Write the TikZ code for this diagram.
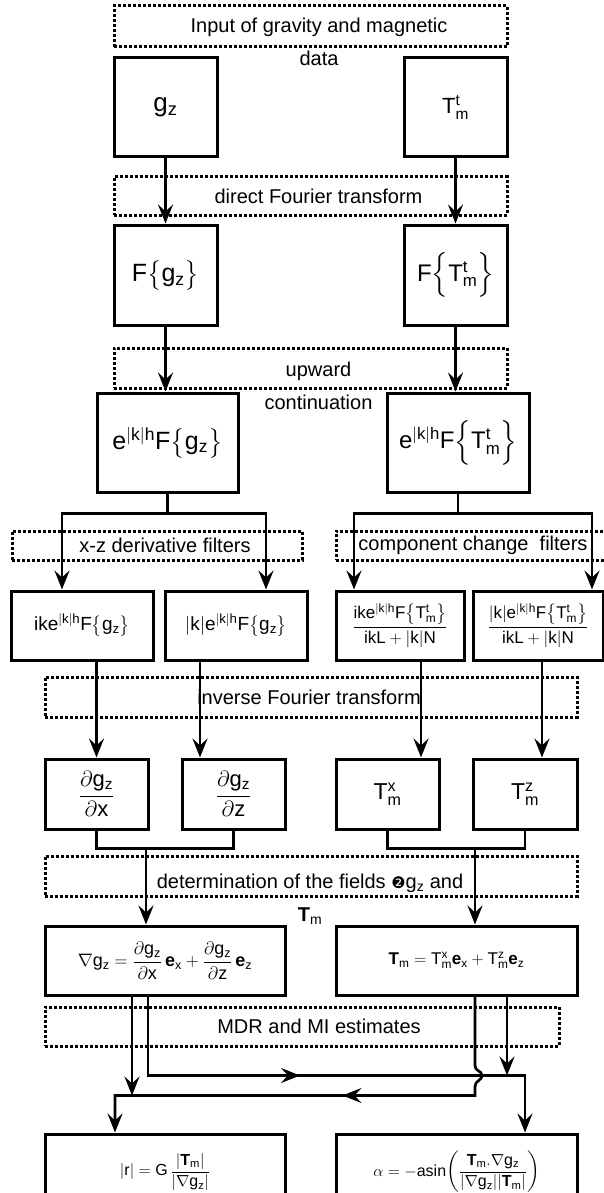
\documentclass[tikz,border=0pt]{standalone}
\usepackage{fix-cm}
\usepackage{amsmath}
\usepackage{fontspec}
\setmainfont{Liberation Sans}
\newfontfamily\dingfont{DejaVu Sans}
\usetikzlibrary{arrows.meta,decorations.markings}

\begin{document}
\begin{tikzpicture}[x=1pt,y=-1pt,
    box/.style={draw, line width=3pt, inner sep=0pt, align=center},
    stage/.style={draw, line width=3pt, dash pattern=on 3pt off 2pt, inner sep=0pt},
    lbl/.style={font=\fontsize{20}{33}\selectfont, align=center, inner sep=0pt},
    wire/.style={line width=2.7pt},
    flow/.style={line width=2.7pt, -{Stealth[length=19pt,width=15pt,inset=7pt]}},
    midarrow/.style={postaction={decorate}, decoration={markings,
        mark=at position #1 with {\arrow{Stealth[length=19pt,width=15pt,inset=7pt]}}}}]
    \useasboundingbox (0,0) rectangle (604,1193);

    % dotted stage frames
    \node[stage, minimum width=393pt, minimum height=41pt] (inp) at (310.5,26.5) {};
    \node[stage, minimum width=393pt, minimum height=38pt] (dft) at (310.5,196) {};
    \node[stage, minimum width=393pt, minimum height=40pt] (upw) at (310.5,368) {};
    \node[stage, minimum width=290pt, minimum height=29pt] (xzf) at (157,545.5) {};
    \node[stage, minimum width=274pt, minimum height=29pt] (ccf) at (473,545.5) {};
    \node[stage, minimum width=532pt, minimum height=40pt] (ift) at (311,697) {};
    \node[stage, minimum width=532pt, minimum height=40pt] (det) at (311,876) {};
    \node[stage, minimum width=514pt, minimum height=39pt] (mdr) at (302,1026.5) {};

    \node[lbl] (inptxt) at (319,41.5) {Input of gravity and magnetic\\data};
    \node[lbl] (dfttxt) at (318.5,196) {direct Fourier transform};
    \node[lbl] (upwtxt) at (318.5,386) {upward\\continuation};
    \node[lbl] (xzftxt) at (165,545.5) {x-z derivative filters};
    \node[lbl] (ccftxt) at (473,545.5) {component change\ \ filters};
    \node[lbl] (ifttxt) at (309,697) {inverse Fourier transform};
    \node[lbl] (dettxt) at (310,899.5) {determination of the fields {\dingfont\fontsize{16}{16}\selectfont ❷}g\textsubscript{z} and\\$\mathbf{T}_\mathrm{m}$};
    \node[lbl] (mdrtxt) at (319,1026.5) {MDR and MI estimates};

    % boxes
    \node[box, minimum width=103pt, minimum height=99pt, font=\fontsize{26}{30}\selectfont] (gz) at (165.5,107.5) {$\mathrm{g_z}$};
    \node[box, minimum width=103pt, minimum height=99pt, font=\fontsize{22}{26}\selectfont] (Tt) at (455.5,107.5) {$\mathrm{T_m^t}$};
    \node[box, minimum width=103pt, minimum height=100pt, font=\fontsize{25}{30}\selectfont] (Fg) at (165.5,275) {$\mathrm{F}\bigl\{\mathrm{g_z}\bigr\}$};
    \node[box, minimum width=103pt, minimum height=100pt, font=\fontsize{24}{28}\selectfont] (Ft) at (455.5,275) {$\mathrm{F}\Bigl\{\mathrm{T_m^t}\Bigr\}$};
    \node[box, minimum width=141pt, minimum height=99pt, font=\fontsize{25}{30}\selectfont] (eg) at (167.5,442.5) {$\mathrm{e^{|k|h}F}\bigl\{\mathrm{g_z}\bigr\}$};
    \node[box, minimum width=142pt, minimum height=99pt, font=\fontsize{24}{28}\selectfont] (et) at (458,442.5) {$\mathrm{e^{|k|h}F}\Bigl\{\mathrm{T_m^t}\Bigr\}$};

    \node[box, minimum width=142pt, minimum height=69pt, font=\fontsize{19}{22}\selectfont] (ike) at (82,625.5) {$\mathrm{ike^{|k|h}F}\bigl\{\mathrm{g_z}\bigr\}$};
    \node[box, minimum width=142pt, minimum height=69pt, font=\fontsize{19}{22}\selectfont] (kle) at (236,625.5) {$\mathrm{\lvert k\rvert e^{|k|h}F}\bigl\{\mathrm{g_z}\bigr\}$};
    \node[box, minimum width=128pt, minimum height=69pt, font=\fontsize{17}{20}\selectfont] (fx) at (400,625.5) {$\dfrac{\mathrm{ike^{|k|h}F}\bigl\{\mathrm{T_m^t}\bigr\}}{\mathrm{ikL+\lvert k\rvert N}}$};
    \node[box, minimum width=130pt, minimum height=69pt, font=\fontsize{17}{20}\selectfont] (fz) at (538,625.5) {$\dfrac{\mathrm{\lvert k\rvert e^{|k|h}F}\bigl\{\mathrm{T_m^t}\bigr\}}{\mathrm{ikL+\lvert k\rvert N}}$};

    \node[box, minimum width=103pt, minimum height=70pt, font=\fontsize{22}{26}\selectfont] (dgx) at (96.5,794) {$\mathrm{\dfrac{\partial g_z}{\partial x}}$};
    \node[box, minimum width=103pt, minimum height=70pt, font=\fontsize{22}{26}\selectfont] (dgz) at (233.5,794) {$\mathrm{\dfrac{\partial g_z}{\partial z}}$};
    \node[box, minimum width=103pt, minimum height=70pt, font=\fontsize{23}{26}\selectfont] (Tx) at (387.5,794) {$\mathrm{T_m^x}$};
    \node[box, minimum width=104pt, minimum height=70pt, font=\fontsize{23}{26}\selectfont] (Tz) at (525,794) {$\mathrm{T_m^z}$};

    \node[box, minimum width=240pt, minimum height=69pt, font=\fontsize{18}{22}\selectfont] (gradg) at (165,960.5) {$\mathrm{\nabla g_z=\dfrac{\partial g_z}{\partial x}\,\mathbf{e}_x+\dfrac{\partial g_z}{\partial z}\,\mathbf{e}_z}$};
    \node[box, minimum width=241pt, minimum height=69pt, font=\fontsize{17}{20}\selectfont] (Tm) at (456.5,960.5) {$\mathrm{\mathbf{T}_m=T_m^x\mathbf{e}_x+T_m^z\mathbf{e}_z}$};

    \node[box, minimum width=240pt, minimum height=76pt, font=\fontsize{16}{20}\selectfont] (rr) at (165,1172) {$\mathrm{\lvert r\rvert=G\,\dfrac{\lvert\mathbf{T}_m\rvert}{\lvert\nabla g_z\rvert}}$};
    \node[box, minimum width=241pt, minimum height=76pt, font=\fontsize{16}{20}\selectfont] (al) at (456.5,1172) {$\mathrm{\alpha=-asin\!\left(\dfrac{\mathbf{T}_m.\nabla g_z}{\lvert\nabla g_z\rvert\lvert\mathbf{T}_m\rvert}\right)}$};

    % connectors
    \draw[flow] (gz) -- (Fg);
    \draw[flow] (Tt) -- (Ft);
    \draw[flow] (Fg.south) -- (Fg.south |- eg.north);
    \draw[flow] (Ft.south) -- (Ft.south |- et.north);

    \draw[wire] (eg.south) -- ++(0,20) coordinate (egb);
    \draw[flow] (egb) -| ([xshift=-20pt]ike.north);
    \draw[flow] (egb) -| ([xshift=30pt]kle.north);
    \draw[wire] (et.south) -- ++(0,20) coordinate (etb);
    \draw[flow] (etb) -| ([xshift=-46pt]fx.north);
    \draw[flow] (etb) -| ([xshift=54pt]fz.north);

    \draw[flow] (dgx.north |- ike.south) -- (dgx.north);
    \draw[flow] ([xshift=-36pt]kle.south) -- ([xshift=-36pt]kle.south |- dgz.north);
    \draw[flow] ([xshift=21pt]fx.south) -- ([xshift=21pt]fx.south |- Tx.north);
    \draw[flow] ([xshift=4pt]fz.south) -- ([xshift=4pt]fz.south |- Tz.north);

    \draw[wire] (dgx.south) -- ++(0,18) coordinate (jg) -| (dgz.south);
    \draw[flow] ([xshift=-19pt]gradg.north |- jg) -- ([xshift=-19pt]gradg.north);
    \draw[wire] (Tx.south) -- ++(0,18) coordinate (jt) -| (Tz.south);
    \draw[flow] ([xshift=18.5pt]Tm.north |- jt) -- ([xshift=18.5pt]Tm.north);

    \draw[flow, midarrow=231pt] ([xshift=-17pt]gradg.south) -- ++(0,79) coordinate (ha) -| ([xshift=68.5pt]al.north);
    \draw[flow, midarrow=237pt] ([xshift=18.5pt]Tm.south) -- ++(0,69)
        .. controls +(0,6) and +(0,-5) .. ++(7,10)
        .. controls +(0,5) and +(0,-6) .. ++(-7,11)
        -- ++(0,9) coordinate (hb) -| ([xshift=-50pt]rr.north);
    \draw[flow] ([xshift=-33pt]gradg.south) -- ([xshift=-33pt]gradg.south |- hb);
    \draw[flow] ([xshift=50.5pt]Tm.south) -- ([xshift=50.5pt]Tm.south |- ha);
\end{tikzpicture}
\end{document}
